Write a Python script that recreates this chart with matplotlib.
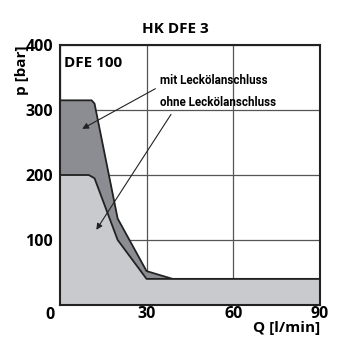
import numpy as np
import matplotlib.pyplot as plt

plt.rcParams['font.family'] = ['Open Sans', 'DejaVu Sans']

# Kennlinien (Q in l/min, p in bar)
q_mit = [0, 11, 12, 20, 30, 39, 90]
p_mit = [315, 315, 310, 133, 52, 40, 40]
q_ohne = [0, 10, 12, 20, 30, 90]
p_ohne = [200, 200, 195, 100, 40, 40]

x_ticks = [0, 30, 60, 90]
y_ticks = [0, 100, 200, 300, 400]

dunkel = '#8c8d92'
hell = '#c9cace'

fig = plt.figure(figsize=(3.5, 3.5), dpi=100)
ax = fig.add_axes([0.171, 0.129, 0.743, 0.742])

ax.fill_between(q_mit, p_mit, 0, color=dunkel, lw=0, zorder=2)
ax.plot(q_mit, p_mit, color='#222222', lw=1.3, zorder=3)
ax.fill_between(q_ohne, p_ohne, 0, color=hell, lw=0, zorder=4)
ax.plot(q_ohne, p_ohne, color='#222222', lw=1.3, zorder=5)

ax.set_xlim(0, 90)
ax.set_ylim(0, 400)
ax.set_xticks(x_ticks)
ax.set_yticks(y_ticks)
ax.set_yticklabels(['', '100', '200', '300', '400'])
ax.set_xticklabels(['', '30', '60', '90'])
ax.tick_params(length=0, labelsize=11.5)
ax.tick_params(axis='x', pad=1)
ax.tick_params(axis='y', pad=5)
for lab in ax.get_xticklabels() + ax.get_yticklabels():
    lab.set_fontweight('bold')
ax.grid(True, color='#555555', lw=0.9, zorder=1)
ax.set_axisbelow(True)
for s in ax.spines.values():
    s.set_linewidth(1.5)
    s.set_color('#222222')
    s.set_zorder(6)

fig.text(0.5, 0.918, 'HK DFE 3', ha='center', va='center', fontsize=11, fontweight='bold')
fig.text(0.063, 0.871, 'p [bar]', rotation=90, ha='center', va='top', fontsize=11, fontweight='bold')
fig.text(0.914, 0.063, 'Q [l/min]', ha='right', va='center', fontsize=11, fontweight='bold')
fig.text(0.143, 0.1, '0', ha='center', va='center', fontsize=11.5, fontweight='bold')

ax.text(1.5, 372, 'DFE 100', ha='left', va='center', fontsize=11, fontweight='bold', zorder=7)
schmal = ['Roboto', 'DejaVu Sans']
ax.text(34.6, 346, 'mit Leckölanschluss', ha='left', va='center', fontsize=8.4,
        fontweight='bold', family=schmal, zorder=7)
ax.text(34.6, 311, 'ohne Leckölanschluss', ha='left', va='center', fontsize=8.4,
        fontweight='bold', family=schmal, zorder=7)

pfeil = dict(arrowstyle='-|>', color='#222222', lw=0.8, mutation_scale=9)
ax.annotate('', xy=(6.9, 269), xytext=(33.9, 335), arrowprops=pfeil, zorder=8)
ax.annotate('', xy=(12.1, 112), xytext=(39, 297), arrowprops=pfeil, zorder=8)

fig.savefig('out.png', dpi=100)
